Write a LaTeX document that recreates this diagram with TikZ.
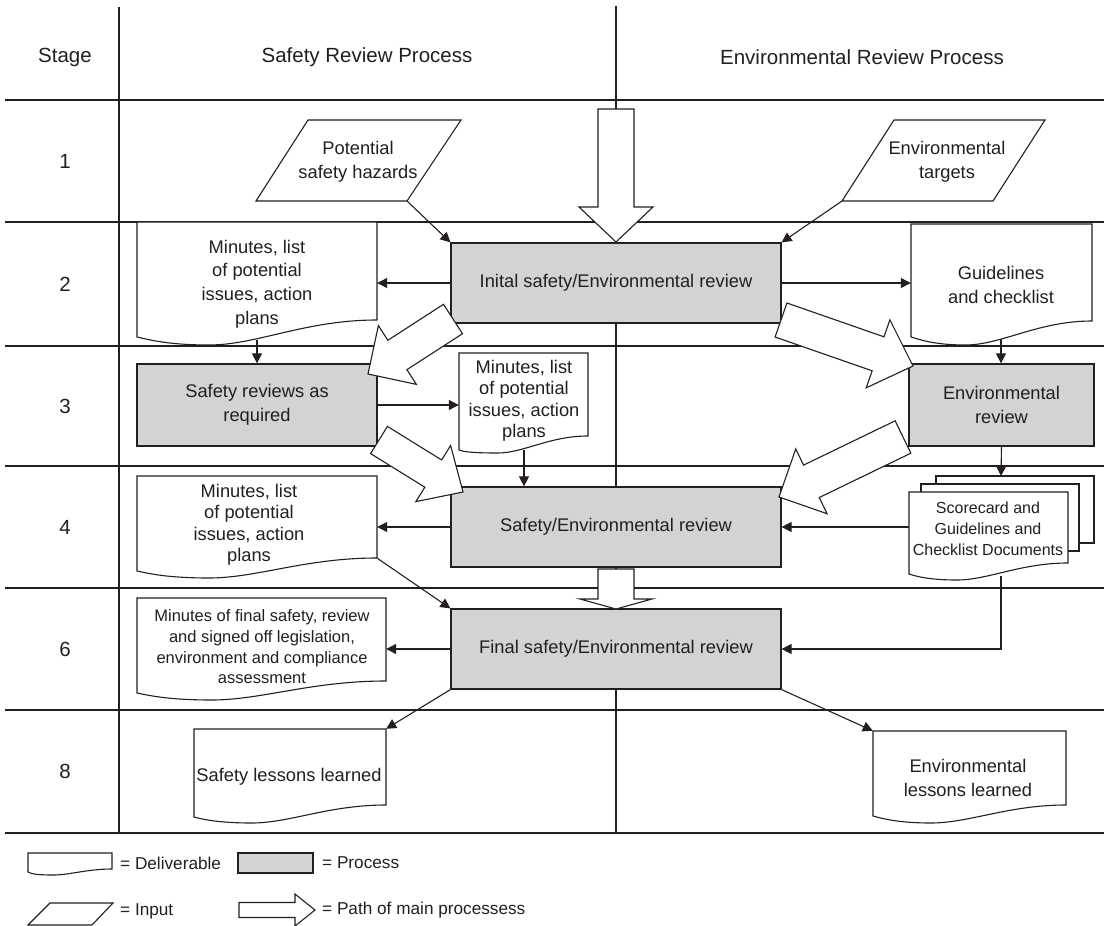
\documentclass[tikz,border=0pt]{standalone}
\usepackage{fontspec}
\setmainfont{Liberation Sans}
\usetikzlibrary{calc,arrows.meta,fit}
\definecolor{ink}{HTML}{231F20}
\definecolor{procgray}{HTML}{D1D3D4}
\newcommand\fsH{\fontsize{20.5}{24}\selectfont}
\newcommand\fsA{\fontsize{18.3}{21.5}\selectfont}
\newcommand\fsAB{\fontsize{18.3}{24}\selectfont}
\newcommand\fsAC{\fontsize{18.3}{23.7}\selectfont}
\newcommand\fsB{\fontsize{16.5}{20.7}\selectfont}
\newcommand\fsC{\fontsize{16}{21}\selectfont}
\newcommand\fsG{\fontsize{17.2}{20}\selectfont}
\tikzset{
  gridthin/.style={draw=ink, line width=1.1pt},
  gridthick/.style={draw=ink, line width=2.3pt},
  docline/.style={draw=ink, fill=white, line width=1.1pt, line join=miter},
  inputshape/.style={draw=ink, fill=white, line width=1.1pt, line join=miter},
  procbox/.style={draw=ink, fill=procgray, line width=1.2pt, text=ink, align=center, font=\fsAB, inner sep=0pt},
  txt/.style={text=ink, align=center, inner sep=0pt},
  hdr/.style={text=ink, font=\fsH, inner sep=0pt},
  legtxt/.style={text=ink, font=\fsG, inner sep=0pt, anchor=west},
  conn/.style={draw=ink, line width=1.1pt, -{Triangle[length=10pt,width=10pt]}},
  bigarr/.style={draw=ink, fill=white, line width=1.1pt, line join=miter},
}
\newcommand\DocNode[7]{%
  \pgfmathsetmacro\docw{#4-#2}%
  \draw[docline] (#2,#3) -- (#4,#3) -- (#4,#5)
    .. controls ({#4-0.3*\docw},#5) and ({#2+0.5*\docw},#7) .. ({#2+0.3*\docw},#7)
    .. controls ({#2+0.12*\docw},#7) and ({#2+0.04*\docw},{#6+2}) .. (#2,#6) -- cycle;
  \coordinate (#1-nw) at (#2,#3);
  \coordinate (#1-se) at (#4,#5);
  \node[fit=(#1-nw)(#1-se), inner sep=0pt, draw=none] (#1) {};
}
\newcommand\BigArrow[5]{%
  \coordinate (bab) at ($(#2)!#5!(#1)$);
  \draw[bigarr] ($(#1)!#3!90:(#2)$) -- ($(bab)!#3!90:(#2)$) -- ($(bab)!#4!90:(#2)$)
    -- (#2) -- ($(bab)!#4!-90:(#2)$) -- ($(bab)!#3!-90:(#2)$) -- ($(#1)!#3!-90:(#2)$) -- cycle;
}
\begin{document}
\begin{tikzpicture}[x=1pt,y=-1pt]
\useasboundingbox (0,0) rectangle (1104,926);
% ---------- grid ----------
\draw[gridthick] (119,7) -- (119,833);
\draw[gridthick] (616,6) -- (616,833);
\draw[gridthick] (5,100) -- (1104,100);
\foreach \yy in {222,346,466,588,710} \draw[gridthin] (5,\yy) -- (1104,\yy);
\draw[gridthick] (5,833) -- (1104,833);
% ---------- headers ----------
\node[hdr] (hstage) at (65,57) {Stage};
\node[hdr] (hsafe) at (367,57) {Safety Review Process};
\node[hdr] (henv) at (862,57) {Environmental Review Process};
\node[hdr] (r1) at (65,161) {1};
\node[hdr] (r2) at (65,284) {2};
\node[hdr] (r3) at (65,406) {3};
\node[hdr] (r4) at (65,527) {4};
\node[hdr] (r6) at (65,649) {6};
\node[hdr] (r8) at (65,771) {8};
% ---------- inputs ----------
\coordinate (hzTL) at (308,120); \coordinate (hzTR) at (461,120);
\coordinate (hzBR) at (407,201); \coordinate (hzBL) at (256,201);
\draw[inputshape] (hzTL) -- (hzTR) -- (hzBR) -- (hzBL) -- cycle;
\node[txt, font=\fsAB] (hz) at (358,162) {Potential\\safety hazards};
\coordinate (etTL) at (894,120); \coordinate (etTR) at (1045,120);
\coordinate (etBR) at (993,201); \coordinate (etBL) at (842,201);
\draw[inputshape] (etTL) -- (etTR) -- (etBR) -- (etBL) -- cycle;
\node[txt, font=\fsAB] (et) at (947,162) {Environmental\\targets};
% ---------- deliverables ----------
\DocNode{m2}{137}{222}{377}{320}{337}{345}
\DocNode{g2}{911}{224}{1092}{321}{337}{345}
\DocNode{m3}{459}{353}{588}{436}{450}{453}
\DocNode{m4}{137}{476}{377}{558}{571}{578}
\DocNode{mf}{137}{598}{386}{681}{693}{700}
\DocNode{sl}{194}{729}{386}{805}{817}{823}
\DocNode{el}{873}{731}{1066}{805}{816}{823}
% stack of documents
\draw[docline] (936,476) rectangle (1094,543);
\draw[docline] (921,484) rectangle (1079,551);
\DocNode{sc}{909}{492}{1068}{563}{574}{580}
% ---------- processes ----------
\node[procbox, minimum width=330pt, minimum height=80pt] (init) at (616,283) {Inital safety/Environmental review};
\node[procbox, minimum width=240pt, minimum height=82pt] (sr) at (257,405) {Safety reviews as\\required};
\node[procbox, minimum width=185pt, minimum height=82pt] (er) at (1001.5,405) {Environmental\\review};
\node[procbox, minimum width=330pt, minimum height=80pt] (se) at (616,527) {Safety/Environmental review};
\node[procbox, minimum width=330pt, minimum height=80pt] (fin) at (616,649) {Final safety/Environmental review};
% ---------- main path arrows ----------
\coordinate (a0t) at (616,109); \coordinate (a0p) at (616,242);
\coordinate (a1t) at (453,319); \coordinate (a1p) at (368,374);
\coordinate (a2t) at (781,320); \coordinate (a2p) at (913,366);
\coordinate (a3t) at (903,437); \coordinate (a3p) at (779,497);
\coordinate (a4t) at (379,440); \coordinate (a4p) at (463,492);
\coordinate (a5t) at (616,569); \coordinate (a5p) at (616,609);
\BigArrow{a0t}{a0p}{18pt}{37pt}{35pt}
\BigArrow{a1t}{a1p}{17.5pt}{35pt}{35pt}
\BigArrow{a2t}{a2p}{18pt}{36pt}{37pt}
\BigArrow{a3t}{a3p}{18pt}{36pt}{36pt}
\BigArrow{a4t}{a4p}{16pt}{33pt}{35pt}
\BigArrow{a5t}{a5p}{18pt}{36pt}{10pt}
% ---------- connectors ----------
\coordinate (m2b) at (257,340);
\coordinate (g2b) at (1001,339);
\coordinate (m3b) at (524,450);
\coordinate (stk) at (1001,476);
\coordinate (scb) at (1001,576);
\draw[conn] (hzBR) -- (init.north west);
\draw[conn] (etBL) -- (init.north east);
\draw[conn] (init.west) -- (init.west -| m2.east);
\draw[conn] (init.east) -- (init.east -| g2.west);
\draw[conn] (m2b) -- (m2b |- sr.north);
\draw[conn] (sr.east) -- (sr.east -| m3.west);
\draw[conn] (m3b) -- (m3b |- se.north);
\draw[conn] (g2b) -- (g2b |- er.north);
\draw[conn] (er.south) -- (stk);
\draw[conn] (se.east -| sc.west) -- (se.east);
\draw[conn] (scb) |- (fin.east);
\draw[conn] (se.west) -- (se.west -| m4.east);
\draw[conn] (m4.south east) -- (fin.north west);
\draw[conn] (fin.west) -- (fin.west -| mf.east);
\draw[conn] (fin.south west) -- (sl.north east);
\draw[conn] (fin.south east) -- (el.north west);
% ---------- deliverable texts ----------
\node[txt, font=\fsAC] (m2t) at (257,284) {Minutes, list\\of potential\\issues, action\\plans};
\node[txt, font=\fsAB] (g2t) at (1001,285) {Guidelines\\and checklist};
\node[txt, font=\fsA] (m3t) at (524,401) {Minutes, list\\of potential\\issues, action\\plans};
\node[txt, font=\fsC] (sct) at (988,529) {Scorecard and\\Guidelines and\\Checklist Documents};
\node[txt, font=\fsA] (m4t) at (249,525) {Minutes, list\\of potential\\issues, action\\plans};
\node[txt, font=\fsB] (mft) at (262,647) {Minutes of final safety, review\\and signed off legislation,\\environment and compliance\\assessment};
\node[txt, font=\fsA] (slt) at (289,777) {Safety lessons learned};
\node[txt, font=\fsAB] (elt) at (968,778) {Environmental\\lessons learned};
% ---------- legend ----------
\DocNode{lgd}{28}{853}{112}{869}{872}{875}
\node[legtxt] (lgdt) at (120,863) {= Deliverable};
\node[draw=ink, fill=procgray, line width=1.1pt, minimum width=75pt, minimum height=20pt, inner sep=0pt] (lgp) at (275.5,863) {};
\node[legtxt] (lgpt) at (322,863) {= Process};
\coordinate (liA) at (28,925); \coordinate (liB) at (50,903);
\coordinate (liC) at (113,903); \coordinate (liD) at (92,925);
\draw[inputshape] (liA) -- (liB) -- (liC) -- (liD) -- cycle;
\node[legtxt] (lit) at (120,911) {= Input};
\coordinate (lat) at (239,910); \coordinate (lap) at (315,910);
\BigArrow{lat}{lap}{7.5pt}{16pt}{20pt}
\node[legtxt] (lat2) at (322,910) {= Path of main processess};
\end{tikzpicture}
\end{document}
